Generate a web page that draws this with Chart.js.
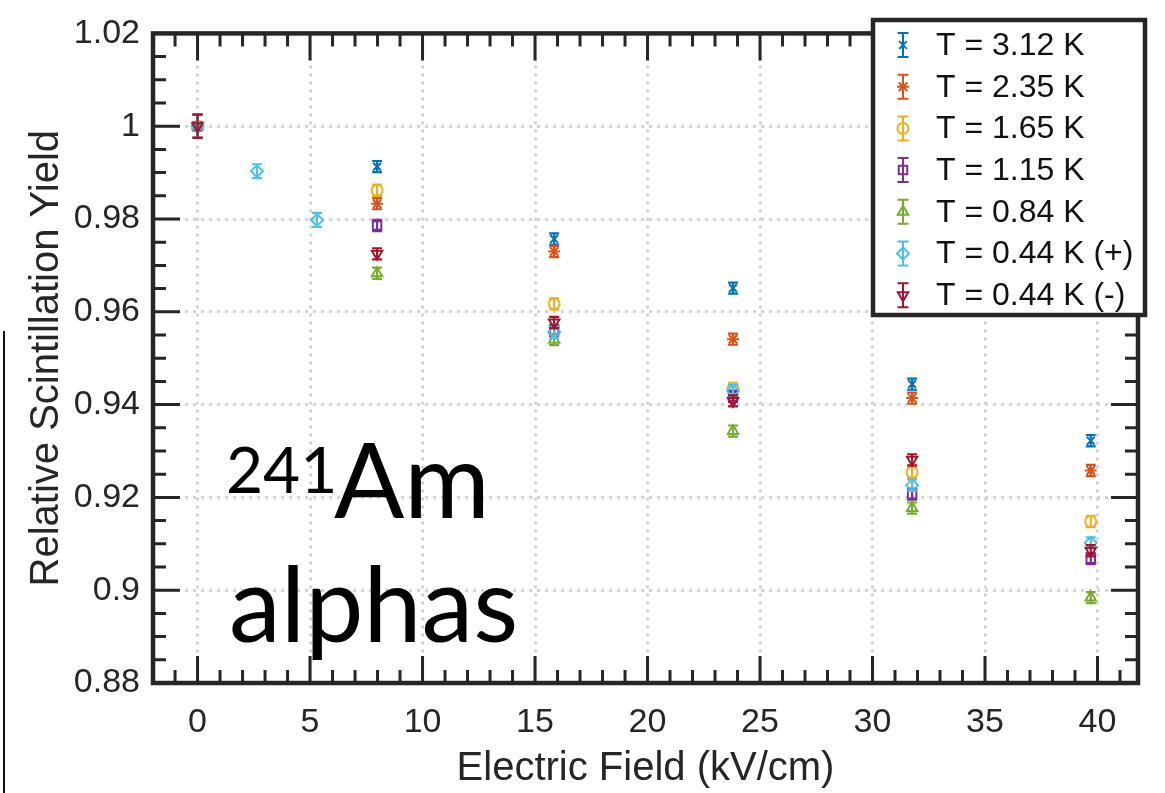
<!DOCTYPE html>
<html lang="en">
<head>
<meta charset="UTF-8" />
<title>Relative Scintillation Yield</title>
<script src="https://cdn.jsdelivr.net/npm/chart.js@4.4.0/dist/chart.umd.min.js"></script>
<style>
  html, body { margin: 0; padding: 0; background: #fff; }
  #wrap { width: 1165px; height: 793px; }
</style>
</head>
<body>
<div id="wrap"><canvas id="myChart" width="1165" height="793"></canvas></div>
<script>
// electric field (kV/cm) of the measurements
var FIELD_MAIN = [0, 7.98, 15.85, 23.8, 31.76, 39.7];
var FIELD_044P = [0, 2.64, 5.31, 15.85, 23.8, 31.76, 39.7];

// relative scintillation yield per temperature
var Y_312 = [1.000, 0.9913, 0.9757, 0.9651, 0.9444, 0.9322];
var Y_235 = [1.000, 0.9833, 0.9730, 0.9541, 0.9414, 0.9258];
var Y_165 = [1.000, 0.9862, 0.9617, 0.9435, 0.9254, 0.9148];
var Y_115 = [1.000, 0.9786, 0.9560, 0.9418, 0.9207, 0.9068];
var Y_084 = [1.000, 0.9683, 0.9540, 0.9343, 0.9177, 0.8984];
var Y_044P = [1.000, 0.9903, 0.9798, 0.9556, 0.9430, 0.9226, 0.9102];
var Y_044M = [1.000, 0.9725, 0.9577, 0.9408, 0.9281, 0.9085];

// error bar half heights
var ERR_MAIN = [0.0025, 0.0012, 0.0012, 0.0012, 0.0012, 0.0012];
var ERR_044P = [0.0025, 0.0015, 0.0015, 0.0012, 0.0012, 0.0012, 0.0012];

var LABELS = ['T = 3.12 K', 'T = 2.35 K', 'T = 1.65 K', 'T = 1.15 K', 'T = 0.84 K', 'T = 0.44 K (+)', 'T = 0.44 K (-)'];
var X_TICKS = [0, 5, 10, 15, 20, 25, 30, 35, 40];
var Y_TICKS = [0.88, 0.9, 0.92, 0.94, 0.96, 0.98, 1, 1.02];

var COLORS = ['#0072BD', '#D95319', '#EDB120', '#7E2F8E', '#77AC30', '#4DBEEE', '#A2142F'];
var STYLES = ['crossRot', 'star', 'circle', 'rect', 'triangle', 'rectRot', 'triangle'];
var ROTS = [0, 0, 0, 0, 0, 0, 180];
var RADII = [5.5, 6, 5.5, 6, 6, 6, 6];

var series = [
    [FIELD_MAIN, Y_312, ERR_MAIN],
    [FIELD_MAIN, Y_235, ERR_MAIN],
    [FIELD_MAIN, Y_165, ERR_MAIN],
    [FIELD_MAIN, Y_115, ERR_MAIN],
    [FIELD_MAIN, Y_084, ERR_MAIN],
    [FIELD_044P, Y_044P, ERR_044P],
    [FIELD_MAIN, Y_044M, ERR_MAIN]
];

var INK = '#262626';
var FONT = '"Liberation Sans", Arial, Helvetica, sans-serif';

var datasets = series.map(function (s, i) {
    return {
        label: LABELS[i],
        data: s[0].map(function (x, j) { return { x: x, y: s[1][j], err: s[2][j] }; }),
        borderColor: COLORS[i],
        backgroundColor: 'rgba(0,0,0,0)',
        pointStyle: STYLES[i],
        rotation: ROTS[i],
        pointRadius: RADII[i],
        pointBorderWidth: 2,
        showLine: false,
        order: series.length - i
    };
});

// white page
var background = {
    id: 'background',
    beforeDraw: function (chart) {
        var ctx = chart.ctx;
        ctx.save();
        ctx.fillStyle = '#fff';
        ctx.fillRect(0, 0, chart.width, chart.height);
        ctx.restore();
    }
};

// vertical error bars with caps
var errorBars = {
    id: 'errorBars',
    afterDatasetDraw: function (chart, args) {
        var ds = chart.data.datasets[args.index];
        var xs = chart.scales.x, ys = chart.scales.y, ctx = chart.ctx;
        ctx.save();
        ctx.strokeStyle = ds.borderColor;
        ctx.lineWidth = 2.2;
        ds.data.forEach(function (p) {
            var px = xs.getPixelForValue(p.x);
            var top = ys.getPixelForValue(p.y + p.err);
            var bot = ys.getPixelForValue(p.y - p.err);
            ctx.beginPath();
            ctx.moveTo(px, top); ctx.lineTo(px, bot);
            ctx.moveTo(px - 5, top); ctx.lineTo(px + 5, top);
            ctx.moveTo(px - 5, bot); ctx.lineTo(px + 5, bot);
            ctx.stroke();
        });
        ctx.restore();
    }
};

// box with inward ticks on all four sides
var frame = {
    id: 'frame',
    afterDatasetsDraw: function (chart) {
        var a = chart.chartArea, xs = chart.scales.x, ys = chart.scales.y, ctx = chart.ctx;
        ctx.save();
        ctx.strokeStyle = INK;
        ctx.lineWidth = 3;
        ctx.beginPath();
        for (var v = Math.ceil(xs.min); v <= Math.floor(xs.max); v++) {
            var len = v % 5 === 0 ? 27 : 13;
            var px = xs.getPixelForValue(v);
            ctx.moveTo(px, a.bottom); ctx.lineTo(px, a.bottom - len);
            ctx.moveTo(px, a.top); ctx.lineTo(px, a.top + len);
        }
        for (var k = 0; k <= 28; k++) {
            var l2 = k % 4 === 0 ? 27 : 13;
            var py = ys.getPixelForValue(0.88 + k * 0.005);
            ctx.moveTo(a.left, py); ctx.lineTo(a.left + l2, py);
            ctx.moveTo(a.right, py); ctx.lineTo(a.right - l2, py);
        }
        ctx.stroke();
        ctx.lineWidth = 4.5;
        ctx.strokeRect(a.left, a.top, a.right - a.left, a.bottom - a.top);

        // stray edge line at the far left of the figure
        ctx.lineWidth = 2;
        ctx.strokeStyle = '#111';
        ctx.beginPath();
        ctx.moveTo(4, 331); ctx.lineTo(4, chart.height);
        ctx.stroke();
        ctx.restore();
    }
};

// legend box and the annotation text
var overlay = {
    id: 'overlay',
    afterDraw: function (chart) {
        var ctx = chart.ctx;
        ctx.save();
        var L = 873, T = 20, W = 272, H = 295;
        ctx.fillStyle = '#fff';
        ctx.fillRect(L, T, W, H);
        ctx.lineWidth = 4.5;
        ctx.strokeStyle = INK;
        ctx.strokeRect(L, T, W, H);

        ctx.font = '32px ' + FONT;
        ctx.textBaseline = 'middle';
        ctx.textAlign = 'left';
        chart.data.datasets.forEach(function (ds, i) {
            var cy = 45 + i * 41.7, cx = 903;
            ctx.strokeStyle = ds.borderColor;
            ctx.fillStyle = 'rgba(0,0,0,0)';
            ctx.lineWidth = 2;
            ctx.beginPath();
            ctx.moveTo(cx, cy - 12); ctx.lineTo(cx, cy + 12);
            ctx.moveTo(cx - 5.5, cy - 12); ctx.lineTo(cx + 5.5, cy - 12);
            ctx.moveTo(cx - 5.5, cy + 12); ctx.lineTo(cx + 5.5, cy + 12);
            ctx.stroke();
            Chart.helpers.drawPoint(ctx, {
                pointStyle: ds.pointStyle,
                rotation: ds.rotation,
                radius: ds.pointRadius,
                borderWidth: 2
            }, cx, cy);
            ctx.fillStyle = '#111';
            ctx.fillText(ds.label, 936, cy + 1);
        });

        ctx.fillStyle = '#000';
        ctx.textBaseline = 'alphabetic';
        ctx.font = '64px Lato, "Open Sans", sans-serif';
        ctx.fillText('241', 226, 493);
        ctx.font = '104px Lato, "Open Sans", sans-serif';
        ctx.fillText('Am', 334, 518);
        ctx.fillText('alphas', 229, 642);
        ctx.restore();
    }
};

var ctx = document.getElementById('myChart').getContext('2d');
var myChart = new Chart(ctx, {
    type: 'scatter',
    data: { datasets: datasets },
    plugins: [background, errorBars, frame, overlay],
    options: {
        responsive: false,
        animation: false,
        devicePixelRatio: 1,
        layout: { padding: { left: 0, top: 23, right: 27, bottom: 0 } },
        plugins: {
            legend: { display: false },
            tooltip: { enabled: false }
        },
        scales: {
            x: {
                type: 'linear',
                min: -1.98,
                max: 41.8,
                afterBuildTicks: function (s) { s.ticks = X_TICKS.map(function (v) { return { value: v }; }); },
                afterFit: function (s) { s.height = 110; },
                grid: { color: '#d4d4d4', lineWidth: 3, drawTicks: false },
                border: { display: false, dash: [3, 5] },
                ticks: {
                    color: INK,
                    font: { family: FONT, size: 34 },
                    padding: 19,
                    maxRotation: 0
                },
                title: {
                    display: true,
                    text: 'Electric Field (kV/cm)',
                    color: INK,
                    font: { family: FONT, size: 40 },
                    padding: { top: 0, bottom: 0 }
                }
            },
            y: {
                type: 'linear',
                min: 0.88,
                max: 1.02,
                afterBuildTicks: function (s) { s.ticks = Y_TICKS.map(function (v) { return { value: v }; }); },
                afterFit: function (s) { s.width = 153; },
                grid: { color: '#d4d4d4', lineWidth: 3, drawTicks: false },
                border: { display: false, dash: [3, 5] },
                ticks: {
                    color: INK,
                    font: { family: FONT, size: 34 },
                    padding: 13,
                    callback: function (v) { return String(+v.toFixed(2)); }
                },
                title: {
                    display: true,
                    text: 'Relative Scintillation Yield',
                    color: INK,
                    font: { family: FONT, size: 40 },
                    padding: { top: 23, bottom: 0 }
                }
            }
        }
    }
});
</script>
</body>
</html>
